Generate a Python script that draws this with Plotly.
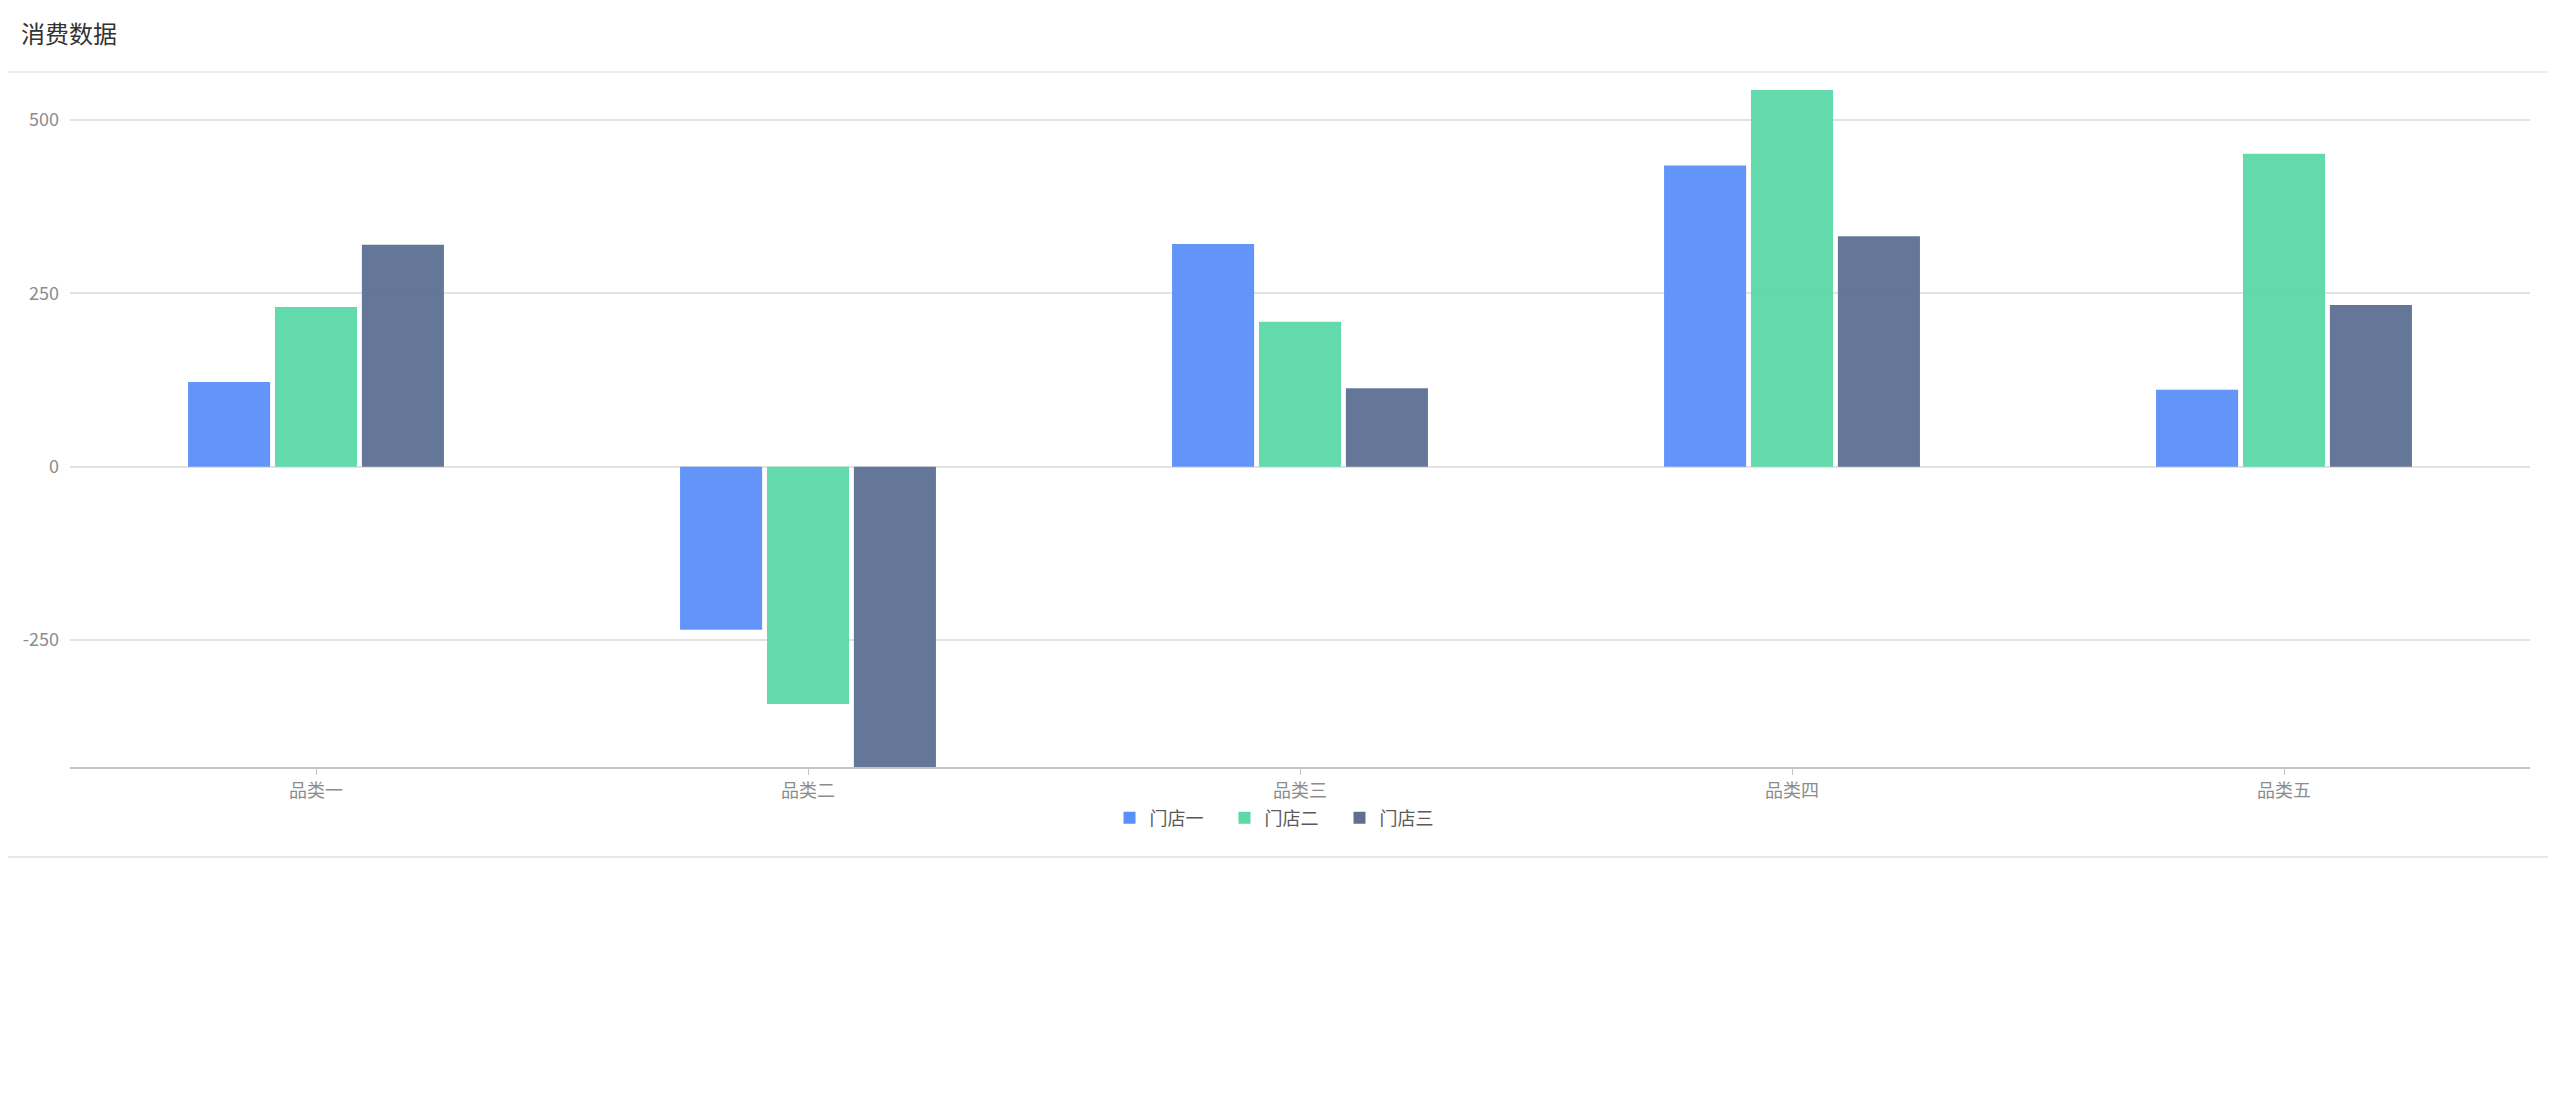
import plotly.graph_objects as go

categories = ["品类一", "品类二", "品类三", "品类四", "品类五"]
series_names = ["门店一", "门店二", "门店三"]
store1 = [122, -235, 321, 434, 111]
store2 = [230, -342, 209, 543, 451]
store3 = [320, -433, 113, 332, 233]
y_ticks = [-250, 0, 250, 500]
y_tick_labels = ["-250", "0", "250", "500"]
title_text = "消费数据"

colors = ["#5B8FF9", "#5AD8A6", "#5D7092"]
FONT = "Noto Sans CJK SC"

# page body has an 8px margin: shift figure coordinates accordingly
OFF = 8
W, H = 2556 - OFF, 1107 - OFF
PLOT_L, PLOT_R, PLOT_T, PLOT_B = 70 - OFF, 2530 - OFF, 90 - OFF, 767 - OFF
ML, MR, MT, MB = PLOT_L, W - PLOT_R, PLOT_T, H - PLOT_B
PH = PLOT_B - PLOT_T
PW = PLOT_R - PLOT_L

fig = go.Figure()
for name, vals, c in zip(series_names, [store1, store2, store3], colors):
    fig.add_trace(go.Bar(x=categories, y=vals, name=name,
                         marker=dict(color=c, opacity=0.95, line=dict(width=0))))

all_vals = store1 + store2 + store3
ymin, ymax = min(all_vals), max(all_vals)

def py(page_y):
    return (PLOT_B - (page_y - OFF)) / PH

def pxx(page_x):
    return ((page_x - OFF) - PLOT_L) / PW

fig.update_layout(
    width=W, height=H,
    margin=dict(l=ML, r=MR, t=MT, b=MB, autoexpand=False),
    paper_bgcolor="white", plot_bgcolor="white",
    barmode="group", bargap=0.47, bargroupgap=0.056,
    font=dict(family=FONT, size=18, color="#8c8c8c"),
    title=dict(text=title_text, x=(21 - OFF) / W, xanchor="left", xref="container",
               y=1 - (35 - OFF) / H, yanchor="middle", yref="container",
               font=dict(family=FONT, size=24, color="#333333", weight=400)),
    showlegend=True,
    legend=dict(orientation="h", xref="container", x=(1282 - OFF) / W, xanchor="center",
                yref="container", y=1 - (818 - OFF) / H, yanchor="middle",
                entrywidth=70, entrywidthmode="pixels",
                font=dict(family=FONT, size=18, color="#595959"),
                itemclick=False, bgcolor="rgba(0,0,0,0)"),
    xaxis=dict(type="category", showgrid=False, zeroline=False,
               showline=True, linecolor="#c4c4c4", linewidth=2,
               ticks="outside", ticklen=6, tickcolor="#c4c4c4", tickwidth=1,
               tickfont=dict(family=FONT, size=18, color="#8c8c8c"),
               ticklabelstandoff=0),
    yaxis=dict(range=[ymin, ymax], tickvals=y_ticks, ticktext=y_tick_labels,
               showgrid=True, gridcolor="#e3e3e3", gridwidth=1.5,
               zeroline=True, zerolinecolor="#e3e3e3", zerolinewidth=1.5,
               showline=False, ticks="",
               tickfont=dict(family=FONT, size=18, color="#8c8c8c"),
               ticklabelstandoff=10),
    shapes=[
        dict(type="line", xref="paper", yref="paper", x0=pxx(0), x1=pxx(2556),
             y0=py(72), y1=py(72), line=dict(color="#e8e8e8", width=1.5), layer="below"),
        dict(type="line", xref="paper", yref="paper", x0=pxx(0), x1=pxx(2556),
             y0=py(857), y1=py(857), line=dict(color="#e0e0e0", width=1.5), layer="below"),
    ],
)

fig.write_html("out.html")
